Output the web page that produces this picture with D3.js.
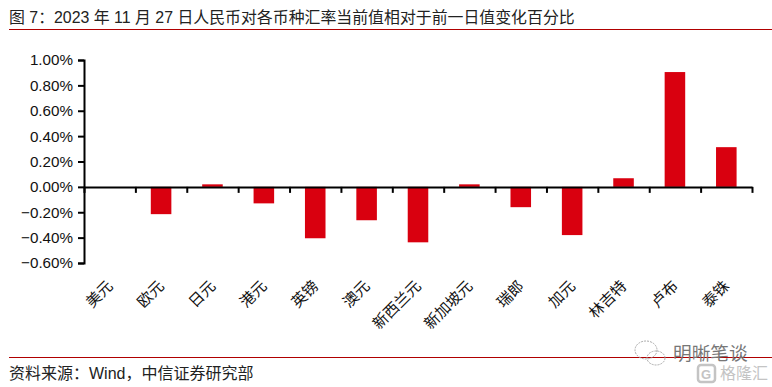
<!DOCTYPE html>
<html>
<head>
<meta charset="utf-8">
<script src="https://cdn.jsdelivr.net/npm/d3@7"></script>
<style>
body { margin: 0; background: #fff; }
text { font-family: "Liberation Sans", "Noto Sans CJK SC", sans-serif; }
</style>
</head>
<body>
<div id="graph1"></div>
<script>
var w = 772;
var h = 387;

var categories = ["美元", "欧元", "日元", "港元", "英镑", "澳元", "新西兰元", "新加坡元", "瑞郎", "加元", "林吉特", "卢布", "泰铢"];
var values = [0, -0.215, 0.02, -0.13, -0.405, -0.263, -0.437, 0.02, -0.16, -0.38, 0.068, 0.905, 0.313];
var yTicks = [1.0, 0.8, 0.6, 0.4, 0.2, 0, -0.2, -0.4, -0.6];
var titleText = "图 7：2023 年 11 月 27 日人民币对各币种汇率当前值相对于前一日值变化百分比";
var sourceText = "资料来源：Wind，中信证券研究部";

var svg = d3.select("#graph1")
    .append("svg")
    .attr("width", w)
    .attr("height", h)
    .style("display", "block");

var xScale = d3.scaleBand()
    .domain(categories)
    .range([84, 752])
    .paddingInner(0.6)
    .paddingOuter(0.3);

// ticks sit on the band edges, so a second scale counts the edges
var edgeScale = d3.scaleLinear()
    .domain([0, categories.length])
    .range([84, 752]);

var yScale = d3.scaleLinear()
    .domain([-0.6, 1])
    .range([263, 60]);

// Title and source
svg.append("text")
    .attr("x", 9)
    .attr("y", 23)
    .attr("font-size", "15.9px")
    .attr("fill", "#222")
    .text(titleText);

svg.append("line")
    .attr("x1", 9).attr("x2", 772)
    .attr("y1", 29.5).attr("y2", 29.5)
    .attr("stroke", "#b00000");

svg.append("line")
    .attr("x1", 9).attr("x2", 772)
    .attr("y1", 357.5).attr("y2", 357.5)
    .attr("stroke", "#b00000");

svg.append("text")
    .attr("x", 9)
    .attr("y", 379)
    .attr("font-size", "16px")
    .attr("fill", "#222")
    .text(sourceText);

// Bars
svg.selectAll("rect.bar")
    .data(values)
    .enter()
    .append("rect")
    .attr("class", "bar")
    .attr("x", function (d, i) { return xScale(categories[i]); })
    .attr("y", function (d) { return yScale(Math.max(d, 0)); })
    .attr("width", xScale.bandwidth())
    .attr("height", function (d) { return Math.abs(yScale(d) - yScale(0)); })
    .attr("fill", "#d9000f");

// Y axis
var yAxis = d3.axisLeft(yScale)
    .tickValues(yTicks)
    .tickSize(6)
    .tickFormat(function (d) { return d3.format(".2f")(d) + "%"; });

var yG = svg.append("g")
    .attr("transform", "translate(84,0)")
    .call(yAxis);
yG.select(".domain").attr("stroke", "#000").attr("stroke-width", 2);
yG.selectAll(".tick line").attr("stroke", "#000").attr("stroke-width", 2);
yG.selectAll(".tick text")
    .attr("font-size", "15.2px")
    .attr("font-family", "Liberation Sans")
    .attr("fill", "#111")
    .attr("x", -11);

// X axis at zero
var xAxis = d3.axisBottom(edgeScale)
    .tickValues(d3.range(categories.length + 1))
    .tickSize(6)
    .tickSizeOuter(0)
    .tickFormat("");

var xG = svg.append("g")
    .attr("transform", "translate(0," + yScale(0) + ")")
    .call(xAxis);
xG.select(".domain").attr("stroke", "#000").attr("stroke-width", 2);
xG.selectAll(".tick line").attr("stroke", "#000").attr("stroke-width", 2);

// Rotated category labels
svg.selectAll("text.cat")
    .data(categories)
    .enter()
    .append("text")
    .attr("class", "cat")
    .attr("text-anchor", "end")
    .attr("font-size", "15.2px")
    .attr("fill", "#111")
    .attr("transform", function (d) {
        return "translate(" + (xScale(d) + xScale.bandwidth() / 2 + 4) + ",287) rotate(-45)";
    })
    .text(function (d) { return d; });

// Watermark
var mark = svg.append("g");
mark.append("text")
    .attr("x", 673).attr("y", 360)
    .attr("font-size", "18.7px")
    .attr("fill", "#777")
    .text("明晰笔谈");
mark.append("text")
    .attr("x", 720).attr("y", 379)
    .attr("font-size", "16px")
    .attr("fill", "#c4c4c4")
    .text("格隆汇");
mark.append("rect")
    .attr("x", 698).attr("y", 365)
    .attr("width", 17).attr("height", 17)
    .attr("rx", 3)
    .attr("fill", "none")
    .attr("stroke", "#c4c4c4")
    .attr("stroke-width", 2.5);
mark.append("text")
    .attr("x", 701).attr("y", 379)
    .attr("font-size", "13px")
    .attr("font-weight", "bold")
    .attr("fill", "#c4c4c4")
    .text("G");
var bubble = svg.append("g")
    .attr("fill", "none")
    .attr("stroke", "#aaa")
    .attr("stroke-dasharray", "2,1");
bubble.append("ellipse").attr("cx", 646).attr("cy", 350).attr("rx", 11).attr("ry", 9);
bubble.append("ellipse").attr("cx", 656).attr("cy", 358).attr("rx", 9).attr("ry", 7);
</script>
</body>
</html>
